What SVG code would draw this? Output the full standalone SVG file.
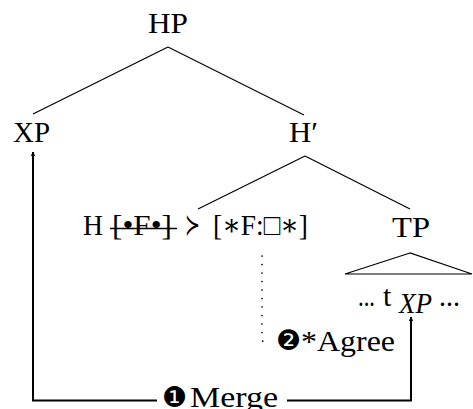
<svg xmlns="http://www.w3.org/2000/svg" width="473" height="409" viewBox="0 0 473 409">
<style>
text{font-family:"Liberation Serif","DejaVu Serif",serif;font-size:30px;fill:#000}
.e{stroke:#000;stroke-width:1.2;fill:none}
.a{stroke:#000;stroke-width:2;fill:none}
.d{stroke:#000;stroke-width:1.7;fill:none;stroke-dasharray:0 8.5;stroke-linecap:round}
.sym{font-family:"DejaVu Sans",sans-serif;font-size:28px}
</style>
<defs>
<marker id="ah" viewBox="0 0 10 10" refX="9" refY="5" markerWidth="5" markerHeight="5" orient="auto" markerUnits="userSpaceOnUse">
<path d="M0,0 L10,5 L0,10 L3,5 Z" fill="#000"/>
</marker>
</defs>
<g id="HP"><text x="148" y="33" textLength="40" lengthAdjust="spacingAndGlyphs">HP</text></g>
<g id="XP"><text x="13" y="142" textLength="37" lengthAdjust="spacingAndGlyphs">XP</text></g>
<g id="Hbar"><text x="289" y="142" textLength="29" lengthAdjust="spacingAndGlyphs">H′</text></g>
<g id="H"><text x="83" y="235" textLength="20" lengthAdjust="spacingAndGlyphs">H</text>
<text x="112" y="235" font-size="27" textLength="60" lengthAdjust="spacingAndGlyphs">[•F•]</text>
<line x1="110" y1="228.5" x2="177" y2="228.5" stroke="#000" stroke-width="1.4"/>
<text x="185" y="235" font-family="DejaVu Sans" font-size="20" textLength="15" lengthAdjust="spacingAndGlyphs">≻</text>
<text x="213" y="235" font-size="27" textLength="95" lengthAdjust="spacingAndGlyphs">[∗F:□∗]</text></g>
<g id="TP"><text x="392" y="237" textLength="38" lengthAdjust="spacingAndGlyphs">TP</text>
<polygon points="410,253 345,274 472,274" class="e"/></g>
<g id="tXP"><text x="358" y="306" textLength="17" lengthAdjust="spacingAndGlyphs">...</text>
<text x="383" y="306" font-size="32">t</text>
<text x="399" y="313" font-style="italic" font-size="23" textLength="33" lengthAdjust="spacingAndGlyphs">XP</text>
<text x="439" y="306" textLength="21" lengthAdjust="spacingAndGlyphs">...</text></g>
<g id="merge-label"><text x="162" y="407" class="sym">❶</text><text x="190" y="407" textLength="88" lengthAdjust="spacingAndGlyphs">Merge</text></g>
<g id="agree-label"><text x="276" y="350" class="sym">❷</text><text x="301" y="351" textLength="94" lengthAdjust="spacingAndGlyphs">*Agree</text></g>
<g id="connectors">
<line x1="168" y1="47" x2="33" y2="114" class="e"/>
<line x1="168" y1="47" x2="304" y2="115" class="e"/>
<line x1="305" y1="156" x2="198" y2="209" class="e"/>
<line x1="305" y1="156" x2="410" y2="209" class="e"/>
<path d="M262,256 L262,338 Q262,344 269,344" class="d"/>
<path d="M157,400.5 L33,400.5 L33,152" class="a" marker-end="url(#ah)"/>
<path d="M287,400.5 L411,400.5 L411,317" class="a" marker-end="url(#ah)"/>
</g>
</svg>
